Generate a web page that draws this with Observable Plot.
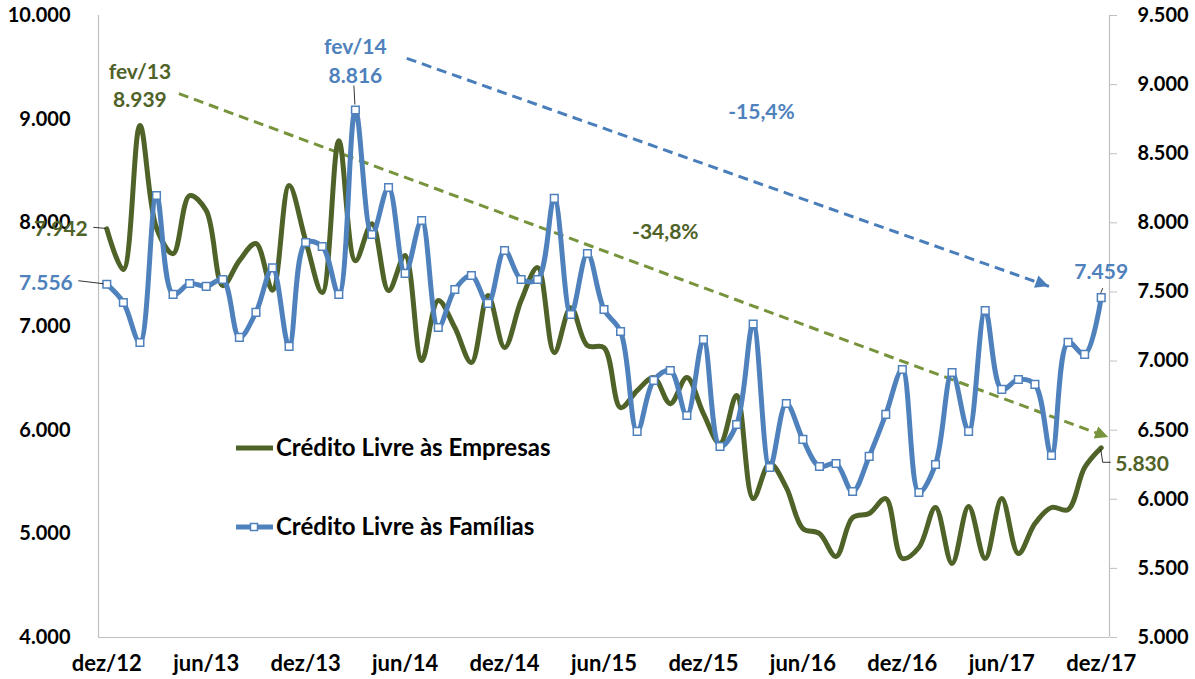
<!DOCTYPE html>
<html><head><meta charset="utf-8">
<script src="https://cdn.jsdelivr.net/npm/d3@7"></script>
<script src="https://cdn.jsdelivr.net/npm/@observablehq/plot@0.6"></script>
<style>
html,body{margin:0;padding:0;background:#fff;}
#chart{width:1195px;height:679px;position:relative;}
</style></head><body><div id="chart"></div>
<script>
// ---- data (monthly, dez/12 .. dez/17) ----
const empresas = [7942, 7549, 8939, 7950, 7703, 8262, 8118, 7394, 7635, 7800,
  7350, 8359, 7828, 7327, 8793, 7635, 7992, 7346, 7684, 6671,
  7250, 6990, 6652, 7298, 6797, 7250, 7568, 6748, 7182, 6816,
  6797, 6218, 6382, 6507, 6256, 6507, 6160, 5871, 6334, 5340,
  5678, 5446, 5051, 5003, 4781, 5157, 5196, 5340, 4762, 4868,
  5254, 4714, 5263, 4762, 5340, 4810, 5099, 5254, 5234, 5639, 5830];
const familias = [7556, 7424, 7134, 8198, 7482, 7561, 7540, 7590, 7171, 7352,
  7674, 7106, 7858, 7829, 7482, 8816, 7916, 8256, 7634, 8017,
  7243, 7518, 7619, 7417, 7800, 7590, 7590, 8177, 7337, 7778,
  7373, 7214, 6491, 6860, 6932, 6606, 7156, 6382, 6541, 7268,
  6230, 6693, 6433, 6237, 6259, 6056, 6310, 6614, 6939, 6049,
  6252, 6917, 6491, 7366, 6795, 6867, 6831, 6317, 7135, 7048, 7459];
const xTickIndex = [0, 6, 12, 18, 24, 30, 36, 42, 48, 54, 60];
const xTickLabels = ["dez/12","jun/13","dez/13","jun/14","dez/14","jun/15","dez/15","jun/16","dez/16","jun/17","dez/17"];
const leftTicks = [4000, 5000, 6000, 7000, 8000, 9000, 10000];
const rightTicks = [5000, 5500, 6000, 6500, 7000, 7500, 8000, 8500, 9000, 9500];
const seriesNames = ["Crédito Livre às Empresas", "Crédito Livre às Famílias"];
// trend arrows (start/end month index and value on own axis) and their labels
const trendEmpresas = {x1: 4.35, y1: 9246, x2: 60.45, y2: 5929, label: "-34,8%", lx: 33.7, ly: 7905};
const trendFamilias = {x1: 18.1, y1: 9190, x2: 56.85, y2: 7540, label: "-15,4%", lx: 39.5, ly: 8802};
const peakEmpresas = {i: 2, v: 8939, label: "fev/13\n8.939"};
const peakFamilias = {i: 15, v: 8816, label: "fev/14\n8.816"};

// ---- helpers ----
const leftDomain = [4000, 10000], rightDomain = [5000, 9500];
const toLeft = v => leftDomain[0] + (v - rightDomain[0]) * (leftDomain[1] - leftDomain[0]) / (rightDomain[1] - rightDomain[0]);
const fromLeft = v => rightDomain[0] + (v - leftDomain[0]) * (rightDomain[1] - rightDomain[0]) / (leftDomain[1] - leftDomain[0]);
const fmt = v => d3.format(",")(Math.round(v)).replace(/,/g, ".");

const green = "#4f6228", blue = "#4f81bd", greenTrend = "#77933c", blueTrend = "#4a7ebb", axisGray = "#bfbfbf";
const font = "Lato, 'Open Sans', sans-serif";
const annSize = 21;

const dE = empresas.map((v, i) => ({i, v}));
const dF = familias.map((v, i) => ({i, v: toLeft(v)}));
const tE = [trendEmpresas];
const tF = [{...trendFamilias, y1: toLeft(trendFamilias.y1), y2: toLeft(trendFamilias.y2), ly: toLeft(trendFamilias.ly)}];

const chart = Plot.plot({
  width: 1195, height: 679,
  marginLeft: 98, marginRight: 86, marginTop: 15, marginBottom: 42,
  style: {fontFamily: font, fontSize: "20px", fontWeight: "bold", color: "#000", background: "#fff", overflow: "visible"},
  x: {domain: [-0.5, 60.5]},
  y: {domain: leftDomain},
  marks: [
    Plot.ruleY([leftDomain[0]], {stroke: axisGray, strokeWidth: 1.2}),
    Plot.ruleX([-0.5], {stroke: axisGray, strokeWidth: 1.2}),
    Plot.ruleX([60.5], {stroke: axisGray, strokeWidth: 1.2}),
    Plot.axisX({ticks: xTickIndex, tickFormat: d => xTickLabels[xTickIndex.indexOf(d)], tickSize: 0, tickPadding: 18, label: null, fill: "#000", fontSize: 22}),
    Plot.axisY({ticks: leftTicks, tickFormat: fmt, tickSize: 0, tickPadding: 28, label: null, fill: "#000"}),
    Plot.axisY({anchor: "right", ticks: rightTicks.map(toLeft), tickFormat: d => fmt(fromLeft(d)), tickSize: 7, tickPadding: 21, label: null, stroke: axisGray, fill: "#000"}),
    // trends
    Plot.link(tE, {x1: "x1", y1: "y1", x2: "x2", y2: "y2", stroke: greenTrend, strokeWidth: 3, strokeDasharray: "10,6"}),
    Plot.link(tF, {x1: "x1", y1: "y1", x2: "x2", y2: "y2", stroke: blueTrend, strokeWidth: 3, strokeDasharray: "10,6"}),
    Plot.text(tE, {x: "lx", y: "ly", text: "label", fill: green, fontSize: annSize, fontWeight: "bold"}),
    Plot.text(tF, {x: "lx", y: "ly", text: "label", fill: blue, fontSize: annSize, fontWeight: "bold"}),
    // series
    Plot.line(dE, {x: "i", y: "v", stroke: green, strokeWidth: 5, curve: "catmull-rom"}),
    Plot.line(dF, {x: "i", y: "v", stroke: blue, strokeWidth: 5, curve: "catmull-rom"}),
    Plot.dot(dF, {x: "i", y: "v", symbol: "square", r: 4.3, fill: "white", stroke: blue, strokeWidth: 1.5}),
    // value labels
    Plot.text([peakEmpresas], {x: "i", y: "v", text: "label", fill: green, lineAnchor: "bottom", lineHeight: 1.38, dy: -18, fontSize: annSize}),
    Plot.text([{...peakFamilias, v: toLeft(peakFamilias.v)}], {x: "i", y: "v", text: "label", fill: blue, lineAnchor: "bottom", lineHeight: 1.38, dy: -27, fontSize: annSize}),
    Plot.text([{i: 0, v: empresas[0]}], {x: "i", y: "v", text: d => fmt(d.v), fill: green, textAnchor: "end", dx: -19, fontSize: annSize}),
    Plot.text([{i: 0, v: toLeft(familias[0])}], {x: "i", y: "v", text: d => fmt(fromLeft(d.v)), fill: blue, textAnchor: "end", dx: -34, dy: -1, fontSize: annSize}),
    Plot.text([{i: 60, v: toLeft(familias[60])}], {x: "i", y: "v", text: d => fmt(fromLeft(d.v)), fill: blue, lineAnchor: "bottom", dy: -19, fontSize: annSize}),
    Plot.text([{i: 60, v: empresas[60]}], {x: "i", y: "v", text: d => fmt(d.v), fill: green, textAnchor: "start", dx: 14, dy: 16, fontSize: annSize})
  ]
});
document.getElementById("chart").appendChild(chart);

// ---- overlay: arrowheads, leader lines, legend ----
const sx = chart.scale("x"), sy = chart.scale("y");
const X = v => sx.apply(v), Y = v => sy.apply(v);
const svg = d3.select(chart);
const g = svg.append("g");
function head(t, color) {
  const x1 = X(t.x1), y1 = Y(t.y1), x2 = X(t.x2), y2 = Y(t.y2);
  const len = Math.hypot(x2 - x1, y2 - y1), ux = (x2 - x1) / len, uy = (y2 - y1) / len;
  const L = 13, Wd = 6.5, bx = x2 - L * ux, by = y2 - L * uy;
  g.append("polygon").attr("fill", color)
    .attr("points", [[x2, y2], [bx - Wd * uy, by + Wd * ux], [bx + Wd * uy, by - Wd * ux]].map(p => p.join(",")).join(" "));
}
head(tE[0], greenTrend);
head(tF[0], blueTrend);
function leader(pts) {
  g.append("polyline").attr("fill", "none").attr("stroke", "#000").attr("stroke-width", 0.8)
    .attr("points", pts.map(p => p.join(",")).join(" "));
}
leader([[X(0) - 13, Y(empresas[0]) - 1], [X(0) - 1, Y(empresas[0])]]);
leader([[X(0) - 28, Y(toLeft(familias[0])) - 3], [X(0) - 3, Y(toLeft(familias[0]))]]);
leader([[X(15) - 1, Y(toLeft(familias[15])) - 24], [X(15), Y(toLeft(familias[15])) - 5]]);
leader([[X(60), Y(toLeft(familias[60])) - 4], [X(60) + 2, Y(toLeft(familias[60])) - 9]]);
leader([[X(60), Y(empresas[60]) + 2], [X(60) + 2, Y(empresas[60]) + 15], [X(60) + 10, Y(empresas[60]) + 15]]);

// legend
const lg = g.append("g").attr("font-family", font).attr("font-weight", "bold").attr("fill", "#000").attr("text-anchor", "start");
[[green, false, 448], [blue, true, 527]].forEach(([c, sq, yy], k) => {
  lg.append("line").attr("x1", 236).attr("x2", 273).attr("y1", yy).attr("y2", yy).attr("stroke", c).attr("stroke-width", 5);
  if (sq) lg.append("rect").attr("x", 250.5).attr("y", yy - 3.5).attr("width", 7).attr("height", 7).attr("fill", "#fff").attr("stroke", c).attr("stroke-width", 1.5);
  lg.append("text").attr("x", 276).attr("y", yy).attr("dy", "0.35em").attr("text-anchor", "start").style("font-size", "24px").text(seriesNames[k]);
});
</script></body></html>
